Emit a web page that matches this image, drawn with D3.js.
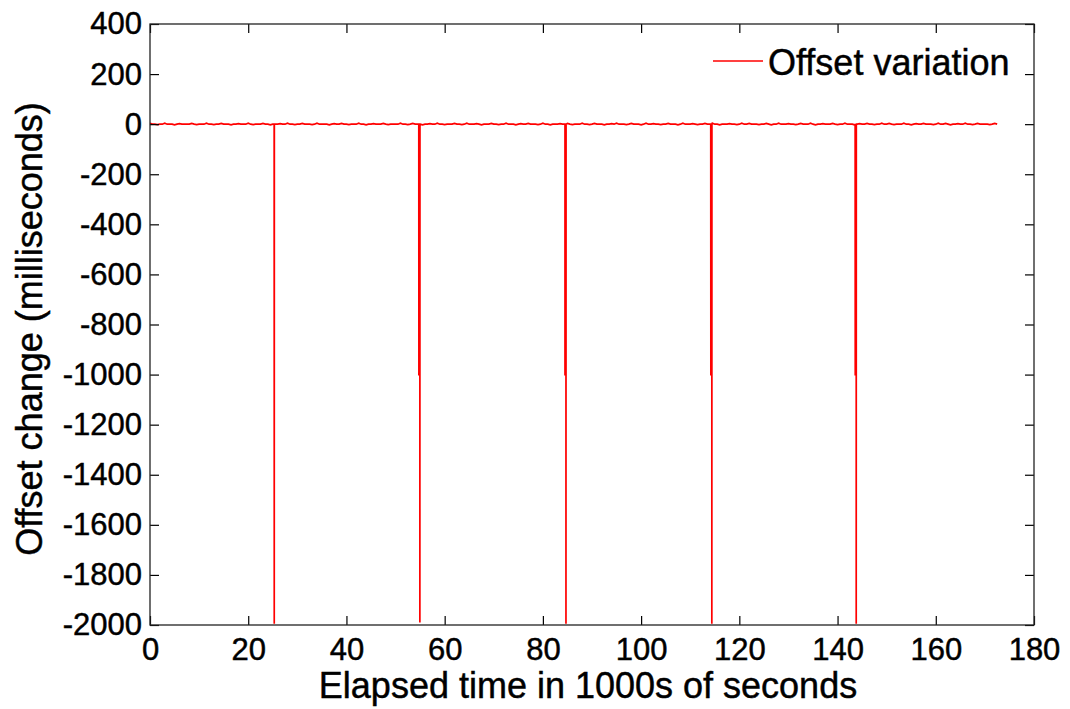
<!DOCTYPE html>
<html>
<head>
<meta charset="utf-8">
<script src="https://cdn.jsdelivr.net/npm/d3@7/dist/d3.min.js"></script>
<style>
  html, body { margin: 0; padding: 0; background: #fff; }
  svg { display: block; }
  text { font-family: "Liberation Sans", Arial, Helvetica, sans-serif; fill: #000; stroke: #000; stroke-width: 0.45px; }
</style>
</head>
<body>
<svg id="chart" width="1070" height="709"></svg>
<script>
// Offset jitter (ms), one sample every 500 s between the clock steps
const baselineOffsets = [
   3,  0,  0, -2,  0,  0,  4,  0,  0,  0, -3,  0,  2,  0,  0,  0,  0,  3,  0, -2,
   0,  0,  0,  4,  0,  0, -2,  0,  0,  3,  0,  0,  0, -3,  0,  0,  2,  0,  0,  0,
   4,  0, -2,  0,  0,  0,  3,  0,  0, -3,  0,  0,  0,  2,  0,  0,  4,  0,  0, -2,
   0,  0,  3,  0,  0,  0, -2,  0,  4,  0,  0,  0,  0, -3,  0,  2,  0,  0,  3,  0,
   0, -2,  0,  0,  0,  4,  0,  0, -3,  0,  0,  2,  0,  0,  0,  3,  0, -2,  0,  0,
   0,  0,  4,  0,  0, -2,  0,  3,  0,  0,  0, -3,  0,  0,  2,  0,  0,  4,  0,  0,
  -2,  0,  0,  0,  3,  0,  0, -2,  0,  4,  0,  0,  0,  2,  0, -3,  0,  0,  0,  3,
   0,  0, -2,  0,  0,  4,  0,  0,  0, -3,  0,  2,  0,  0,  3,  0,  0,  0, -2,  0,
   4,  0,  0, -3,  0,  0,  0,  2,  0,  0,  3,  0, -2,  0,  0,  0,  4,  0,  0, -2,
   0,  3,  0,  0,  0, -3,  0,  0,  2,  0,  4,  0,  0,  0, -2,  0,  3,  0,  0,  0,
  -3,  0,  4,  0,  0,  2,  0,  0, -2,  0,  0,  3,  0,  0,  0, -3,  0,  4,  0,  0,
   0,  2,  0, -2,  0,  0,  3,  0,  0,  4,  0,  0, -3,  0,  0,  0,  2,  0,  0, -2,
   0,  4,  0,  0,  3,  0,  0,  0, -2,  0,  0,  3,  0, -3,  0,  0,  4,  0,  0,  0,
   2,  0,  0, -2,  0,  3,  0,  0,  0,  4,  0, -3,  0,  0,  2,  0,  0,  0,  3,  0,
  -2,  0,  0,  4,  0,  0,  0, -3,  0,  2,  0,  0,  3,  0,  0, -2,  0,  0,  4,  0,
   0,  3,  0, -2,  0,  0,  0,  4,  0,  0, -3,  0,  2,  0,  0,  3,  0,  0,  0, -2,
   0,  4,  0,  0,  3,  0, -3,  0,  0,  2,  0,  0,  4,  0,  0, -2,  0,  3,  0,  0,
   0,  0, -2,  0,  3,  0
];
const sampleStep = 0.5; // 1000s of seconds between samples

// Clock steps: time (1000s of s), intermediate level (ms), lowest value (ms)
const stepTimes  = [25.3, 54.75, 84.5, 114.2, 143.6];
const stepLevels = [null, -1000, -1000, -1000, -1000];
const stepFloors = [-1995, -1990, -1995, -1995, -1995];

const xTicks = [0, 20, 40, 60, 80, 100, 120, 140, 160, 180];
const yTicks = [400, 200, 0, -200, -400, -600, -800, -1000, -1200, -1400, -1600, -1800, -2000];

const seriesName = "Offset variation";
const xTitle = "Elapsed time in 1000s of seconds";
const yTitle = "Offset change (milliseconds)";

// Build the sample series
const points = baselineOffsets.map((v, i) => ({ t: i * sampleStep, v: v }));
stepTimes.forEach((t, i) => {
  points.push({ t: t - 0.02, v: 0 });
  if (stepLevels[i] !== null) {
    points.push({ t: t, v: stepLevels[i] });
    points.push({ t: t + 0.2, v: stepLevels[i] });
    points.push({ t: t + 0.2, v: stepFloors[i] });
    points.push({ t: t + 0.22, v: 0 });
  } else {
    points.push({ t: t, v: stepFloors[i] });
    points.push({ t: t + 0.02, v: 0 });
  }
});
points.sort((a, b) => a.t - b.t);
const lastT = 172.7;
const data = points.filter(p => p.t <= lastT);

const svg = d3.select("#chart");
const m = { left: 150, top: 24, right: 1034, bottom: 625 };

const x = d3.scaleLinear().domain([0, 180]).range([m.left, m.right]);
const y = d3.scaleLinear().domain([-2000, 400]).range([m.bottom, m.top]);

const tickLen = 9;
const tickFont = 31;
const titleFont = 36;
const fmt = d => String(d); // plain hyphen-minus

// Data line
svg.append("path")
  .datum(data)
  .attr("fill", "none")
  .attr("stroke", "#ff0000")
  .attr("stroke-width", 1.7)
  .attr("d", d3.line().x(d => x(d.t)).y(d => y(d.v)));

// Axes with inward ticks on all four sides
const axisStyle = g => {
  g.select(".domain").remove();
  g.selectAll(".tick line").attr("stroke", "#000").attr("stroke-width", 1.2);
  g.selectAll(".tick text").style("font-size", tickFont + "px").attr("fill", "#000");
};

svg.append("g")
  .attr("transform", `translate(0,${m.bottom})`)
  .call(d3.axisBottom(x).tickValues(xTicks).tickSize(-tickLen).tickPadding(13).tickFormat(fmt))
  .call(axisStyle);

svg.append("g")
  .attr("transform", `translate(0,${m.top})`)
  .call(d3.axisTop(x).tickValues(xTicks).tickSize(-tickLen).tickFormat(""))
  .call(axisStyle);

svg.append("g")
  .attr("transform", `translate(${m.left},0)`)
  .call(d3.axisLeft(y).tickValues(yTicks).tickSize(-tickLen).tickPadding(8).tickFormat(fmt))
  .call(axisStyle);

svg.append("g")
  .attr("transform", `translate(${m.right},0)`)
  .call(d3.axisRight(y).tickValues(yTicks).tickSize(-tickLen).tickFormat(""))
  .call(axisStyle);

// Plot box
svg.append("rect")
  .attr("x", m.left).attr("y", m.top)
  .attr("width", m.right - m.left).attr("height", m.bottom - m.top)
  .attr("fill", "none").attr("stroke", "#222").attr("stroke-width", 1.3);

// Axis titles
svg.append("text")
  .attr("x", 588).attr("y", 698)
  .attr("text-anchor", "middle")
  .style("font-size", titleFont + "px")
  .text(xTitle);

svg.append("text")
  .attr("transform", `translate(42,329) rotate(-90)`)
  .attr("text-anchor", "middle")
  .style("font-size", titleFont + "px")
  .text(yTitle);

// Legend
const legend = svg.append("g");
legend.append("line")
  .attr("x1", 713).attr("x2", 763).attr("y1", 61).attr("y2", 61)
  .attr("stroke", "#ff0000").attr("stroke-width", 1.6);
legend.append("text")
  .attr("x", 768).attr("y", 75)
  .style("font-size", titleFont + "px")
  .text(seriesName);
</script>
</body>
</html>
